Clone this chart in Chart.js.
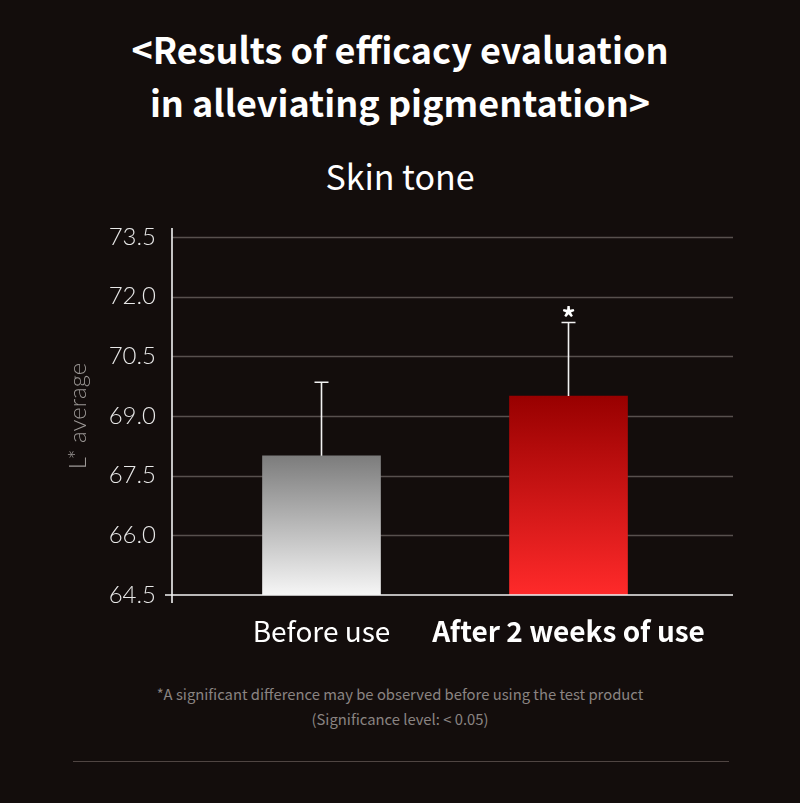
<!DOCTYPE html>
<html>
<head>
<meta charset="utf-8">
<script src="https://cdn.jsdelivr.net/npm/chart.js@4.4.1/dist/chart.umd.min.js"></script>
<style>
  html, body { margin: 0; padding: 0; }
  body {
    width: 800px; height: 803px; overflow: hidden; position: relative;
    background: #130d0c;
    font-family: "Noto Sans CJK KR", "Noto Sans", sans-serif;
    color: #fff;
  }
  .title {
    position: absolute; left: 0; width: 800px; top: 22px;
    text-align: center; font-size: 36px; line-height: 53px; font-weight: 700;
  }
  .subtitle {
    position: absolute; left: 0; width: 800px; top: 155px;
    text-align: center; font-size: 34px; line-height: 42px; font-weight: 400;
  }
  .chart-box { position: absolute; left: 0; top: 200px; width: 800px; height: 460px; }
  .note {
    position: absolute; left: 0; width: 800px; top: 681px;
    text-align: center; font-size: 14.8px; line-height: 25px; font-weight: 400;
    color: #8a8482;
  }
  .rule { position: absolute; left: 73px; top: 761px; width: 656px; height: 1px; background: #4f4542; }
</style>
</head>
<body>
<div class="title">&lt;Results of efficacy evaluation<br>in alleviating pigmentation&gt;</div>
<div class="subtitle">Skin tone</div>
<div class="chart-box"><canvas id="chart"></canvas></div>
<div class="note">*A significant difference may be observed before using the test product<br>(Significance level: &lt; 0.05)</div>
<div class="rule"></div>

<script>
const categories = ["Before use", "After 2 weeks of use"];
const meanValues = [68.0, 69.5];
const errorValues = [1.85, 1.85];
const significance = ["", "*"];
const yMin = 64.5, yMax = 73.5, yStep = 1.5;

// bar gradients: [top colour, bottom colour]
const barGradients = [["#7c7c7c", "#f6f6f6"], ["#980000", "#ff2a2a"]];

const GRID_LEFT = 26;   // grid / axis reach past the bar area
const GRID_RIGHT = 41;

const frame = {
  id: "frame",
  beforeDatasetsDraw(chart) {
    const { ctx, chartArea, scales: { y } } = chart;
    ctx.save();
    ctx.strokeStyle = "#57504e";
    ctx.lineWidth = 1.5;
    y.ticks.forEach(t => {
      if (t.value === yMin) return;
      const py = Math.round(y.getPixelForValue(t.value)) + 0.5;
      ctx.beginPath();
      ctx.moveTo(chartArea.left - GRID_LEFT, py);
      ctx.lineTo(chartArea.right + GRID_RIGHT, py);
      ctx.stroke();
    });
    ctx.restore();
  },
  afterDatasetsDraw(chart) {
    const { ctx, chartArea, scales: { y } } = chart;
    const meta = chart.getDatasetMeta(0);
    ctx.save();
    ctx.strokeStyle = "#f2f2f2";
    ctx.lineWidth = 1.6;
    // axes
    const x0 = chartArea.left - GRID_LEFT;
    const base = y.getPixelForValue(yMin);
    ctx.beginPath();
    ctx.moveTo(x0, chartArea.top - 9);
    ctx.lineTo(x0, chartArea.bottom + 8);
    ctx.moveTo(x0 - 7, base);
    ctx.lineTo(chartArea.right + GRID_RIGHT, base);
    ctx.stroke();

    // error bars (upper only)
    meta.data.forEach((bar, i) => {
      const top = y.getPixelForValue(meanValues[i] + errorValues[i]);
      ctx.beginPath();
      ctx.moveTo(bar.x, bar.y);
      ctx.lineTo(bar.x, top);
      ctx.moveTo(bar.x - 7, top);
      ctx.lineTo(bar.x + 7, top);
      ctx.stroke();
      if (significance[i]) {
        ctx.fillStyle = "#ffffff";
        ctx.font = "bold 28px 'Noto Sans CJK KR'";
        ctx.textAlign = "center";
        ctx.textBaseline = "middle";
        ctx.fillText(significance[i], bar.x, top - 4);
      }
    });
    ctx.restore();
  }
};

new Chart(document.getElementById("chart"), {
  type: "bar",
  data: {
    labels: categories,
    datasets: [{
      data: meanValues,
      barThickness: 118,
      backgroundColor: (c) => {
        const { chart } = c;
        if (!chart.chartArea) return barGradients[c.dataIndex][0];
        const y = chart.scales.y;
        const g = chart.ctx.createLinearGradient(0, y.getPixelForValue(c.raw), 0, chart.chartArea.bottom);
        g.addColorStop(0, barGradients[c.dataIndex][0]);
        g.addColorStop(1, barGradients[c.dataIndex][1]);
        return g;
      }
    }]
  },
  options: {
    responsive: true,
    maintainAspectRatio: false,
    animation: false,
    layout: { padding: { top: 37, right: 108, left: 0, bottom: 0 } },
    plugins: { legend: { display: false }, tooltip: { enabled: false } },
    scales: {
      x: {
        grid: { display: false, drawTicks: false },
        border: { display: false },
        ticks: {
          padding: 20,
          autoSkip: false,
          maxRotation: 0,
          minRotation: 0,
          color: "#ffffff",
          font: (c) => ({
            family: "'Noto Sans CJK KR', 'Noto Sans', sans-serif",
            size: 28,
            weight: c.index === 1 ? "bold" : "normal"
          })
        },
        afterFit: (s) => { s.height = 65; }
      },
      y: {
        min: yMin,
        max: yMax,
        // tick marks hidden; their length only spaces the labels off the plot
        grid: { display: false, drawTicks: true, tickLength: 42, color: "transparent" },
        border: { display: false },
        ticks: {
          stepSize: yStep,
          padding: 0,
          color: "#e8e8e8",
          font: { family: "Lato, sans-serif", size: 24, weight: 300 },
          callback: (v) => Number(v).toFixed(1)
        },
        title: {
          display: true,
          text: "L* average",
          color: "#9c9896",
          padding: { top: 64, bottom: 0 },
          font: { family: "Lato, sans-serif", size: 24, weight: 300 }
        },
        afterFit: (s) => { s.width = 198; }
      }
    }
  },
  plugins: [frame]
});
</script>
</body>
</html>
